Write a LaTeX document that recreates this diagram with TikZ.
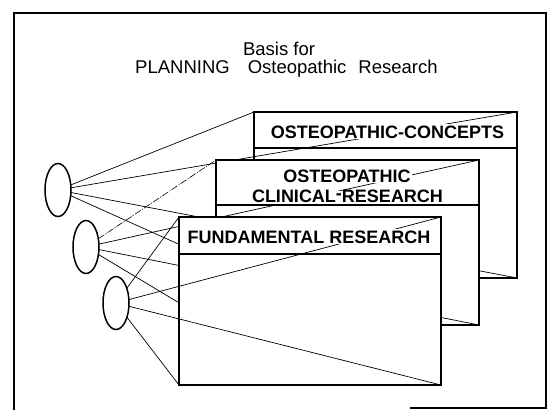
\documentclass[tikz,border=0pt]{standalone}
\usepackage{fontspec}
\setmainfont{Liberation Sans}
\usetikzlibrary{shapes.geometric}
\begin{document}
\begin{tikzpicture}[x=1pt,y=-1pt,
  box/.style={draw, fill=white, line width=1.8pt, rectangle, inner sep=0pt, outer sep=0pt},
  hdr/.style={line width=1.5pt},
  ray/.style={line width=0.7pt},
  faint/.style={line width=0.6pt, dash pattern=on 7pt off 1.5pt on 1pt off 1.5pt},
  eye/.style={draw, ellipse, line width=1.5pt, minimum width=26pt, minimum height=53pt, inner sep=0pt, outer sep=0pt},
  lbl/.style={fill=white, inner xsep=1pt, inner ysep=1pt, text height=13pt, text depth=0pt, font=\fontsize{18}{19}\selectfont\bfseries},
  ttl/.style={font=\fontsize{18.5}{18.5}\selectfont, inner sep=0pt}
]
\useasboundingbox (0,0) rectangle (549,410);
% frame
\draw[line width=1.5pt] (14,410) -- (14,13) -- (546,13) -- (546,408) -- (410,408);
% title
\node[ttl, anchor=base] (ttl1) at (279,55) {Basis for};
\node[ttl, anchor=base west] (ttl2) at (135,73) {PLANNING\hspace{18pt}Osteopathic\hspace{12pt}Research};
% ellipses
\node[eye] (e1) at (58,190) {};
\node[eye] (e2) at (86,247) {};
\node[eye] (e3) at (116,303) {};
% box 1
\node[box, minimum width=263pt, minimum height=166pt] (b1) at (385.5,195) {};
\draw[hdr] ([yshift=-36pt]b1.north west) -- ([yshift=-36pt]b1.north east);
\draw[ray] (e1) -- (b1.north west);
\draw[ray] (e1) -- (b1.north east);
\draw[ray] (e1) -- (b1.south west);
\draw[ray] (e1) -- (b1.south east);
\node[lbl, anchor=base] (t1) at (387.5,138) {OSTEOPATHIC-CONCEPTS};
% box 2
\node[box, minimum width=263pt, minimum height=165pt] (b2) at (347.5,242.5) {};
\draw[hdr] ([yshift=-45pt]b2.north west) -- ([yshift=-45pt]b2.north east);
\draw[faint] (e2) -- (b2.north west);
\draw[ray] (e2) -- (b2.north east);
\draw[ray] (e2) -- (b2.south west);
\draw[ray] (e2) -- (b2.south east);
\node[lbl, anchor=base] (t2a) at (347,182) {OSTEOPATHIC};
\node[lbl, anchor=base, text height=11pt] (t2b) at (347.5,202.5) {CLINICAL\raisebox{3pt}{-}RESEARCH};
% box 3
\node[box, minimum width=262pt, minimum height=168pt] (b3) at (310,301) {};
\draw[hdr] ([yshift=-37pt]b3.north west) -- ([yshift=-37pt]b3.north east);
\draw[ray] (e3) -- (b3.north west);
\draw[ray] (e3) -- (b3.north east);
\draw[ray] (e3) -- (b3.south west);
\draw[ray] (e3) -- (b3.south east);
\node[lbl, anchor=base] (t3) at (309,243) {FUNDAMENTAL RESEARCH};
\end{tikzpicture}
\end{document}
